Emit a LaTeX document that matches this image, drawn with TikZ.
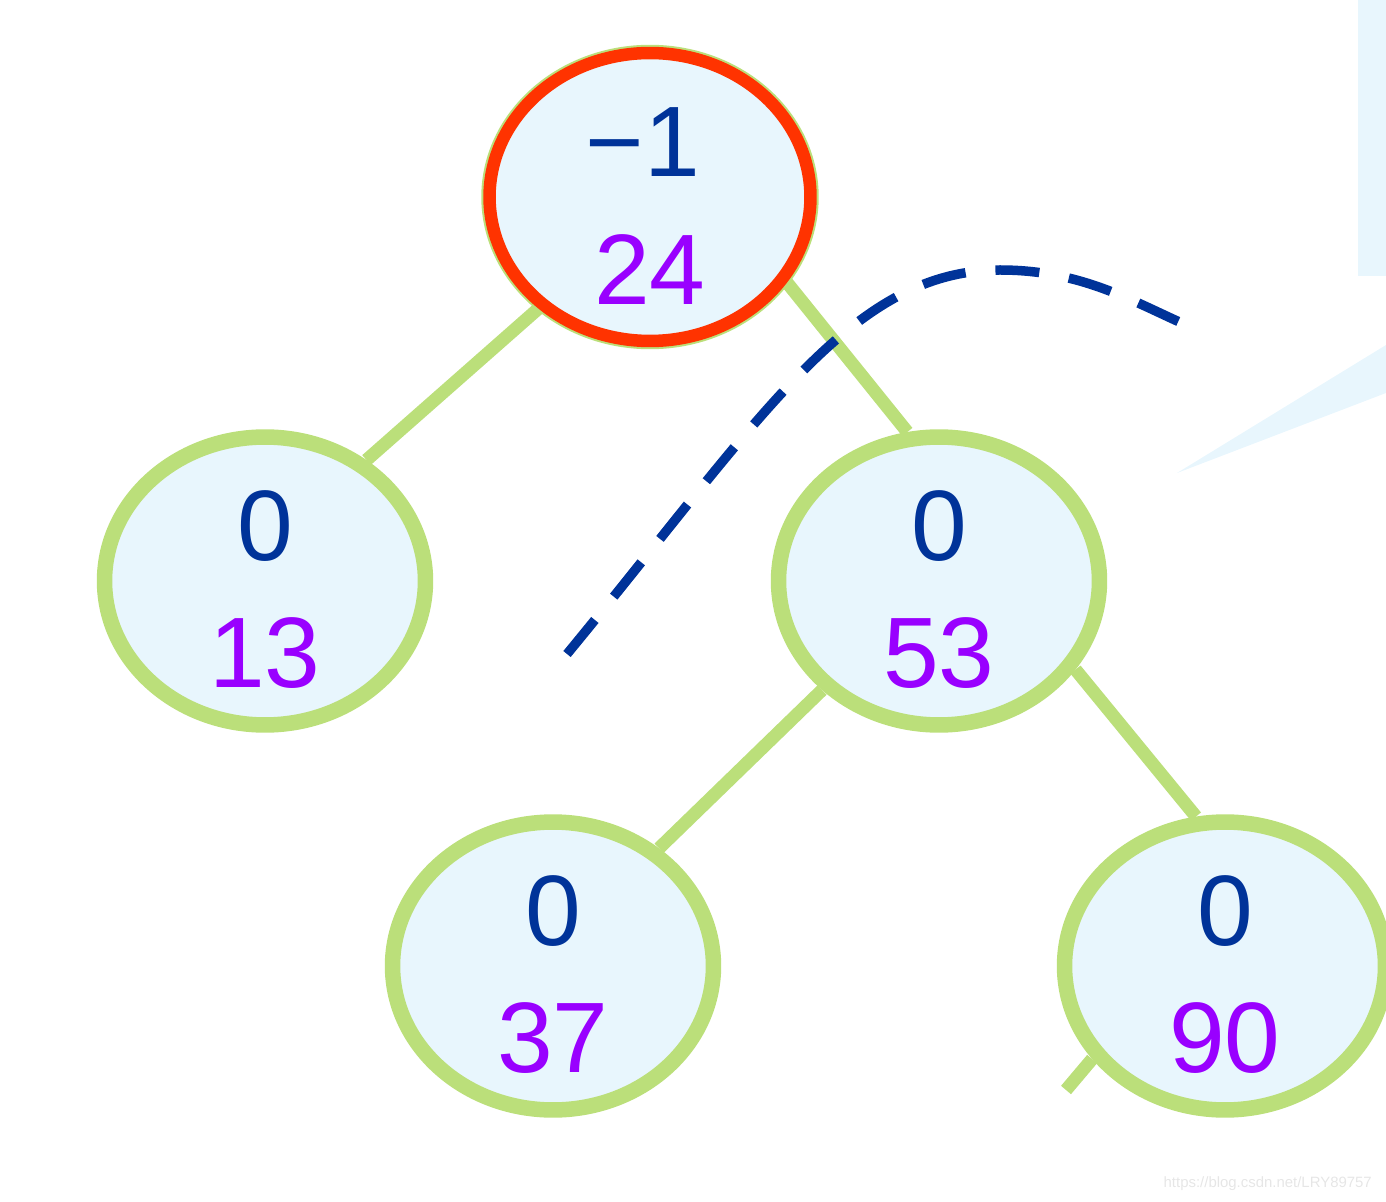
\documentclass[tikz,border=0pt]{standalone}
\usepackage{fontspec}
\setmainfont{Liberation Sans}
\usetikzlibrary{shapes.geometric,backgrounds}
\definecolor{leafgreen}{HTML}{BBDF7A}
\definecolor{ringred}{HTML}{FF3300}
\definecolor{bfblue}{HTML}{003399}
\definecolor{keypurple}{HTML}{9900FF}
\definecolor{paleblue}{HTML}{E8F6FD}
\definecolor{markgrey}{HTML}{E6E6E6}

\begin{document}
\begin{tikzpicture}[x=0.02cm, y=-0.02cm,
    avl/.style={ellipse, draw=leafgreen, line width=0.31cm, fill=paleblue,
        minimum width=6.42cm, minimum height=5.76cm, inner sep=0pt},
    bf/.style={text=bfblue, font=\fontsize{57}{60}\selectfont, inner sep=0pt},
    key/.style={text=keypurple, font=\fontsize{57}{60}\selectfont, inner sep=0pt},
    branch/.style={draw=leafgreen, line width=0.26cm},
    cut/.style={draw=bfblue, line width=0.19cm, dash pattern=on 0.88cm off 0.6cm}]
    \useasboundingbox (0,0) rectangle (1386,1202);
    \clip (0,0) rectangle (1386,1202);

    % callout pieces at the right edge
    \fill[paleblue] (1358,0) rectangle (1386,276);
    \fill[paleblue] (1177,473) -- (1386,345) -- (1386,393) -- cycle;

    % root, out of balance
    \node[avl, draw=ringred, line width=0.25cm,
        preaction={draw=leafgreen, line width=0.33cm}] (root) at (650,197) {};
    \node[bf] (root-bf) at (643,142) {−1};
    \node[key] (root-key) at (650,270) {24};

    % the other nodes
    \foreach \n/\x/\y/\k in {n13/265/581/13, n53/939/581/53, n37/553/966/37, n90/1225/966/90} {
        \node[avl] (\n) at (\x,\y) {};
        \node[bf] (\n-bf) at (\x,\y-55) {0};
        \node[key] (\n-key) at (\x,\y+72) {\k};
    }

    % branches
    \coordinate (stub) at (1066,1090);
    \begin{scope}[on background layer]
        \draw[branch] (root.225) -- (n13.50);
        \draw[branch] (root.-32) -- (n53.102);
        \draw[branch] (n53.223) -- (n37.48);
        \draw[branch] (n53.-33) -- (n90.101);
        \draw[branch] (n90.215) -- (stub);
    \end{scope}

    % cut line
    \draw[cut] (567,654) .. controls (760,420) and (850,270) .. (1000,270)
        .. controls (1080,270) and (1130,300) .. (1186,325);

    \node[font=\fontsize{8.5}{10}\selectfont, text=markgrey, anchor=east] (mark) at (1378,1184) {https://blog.csdn.net/LRY89757};
\end{tikzpicture}
\end{document}
